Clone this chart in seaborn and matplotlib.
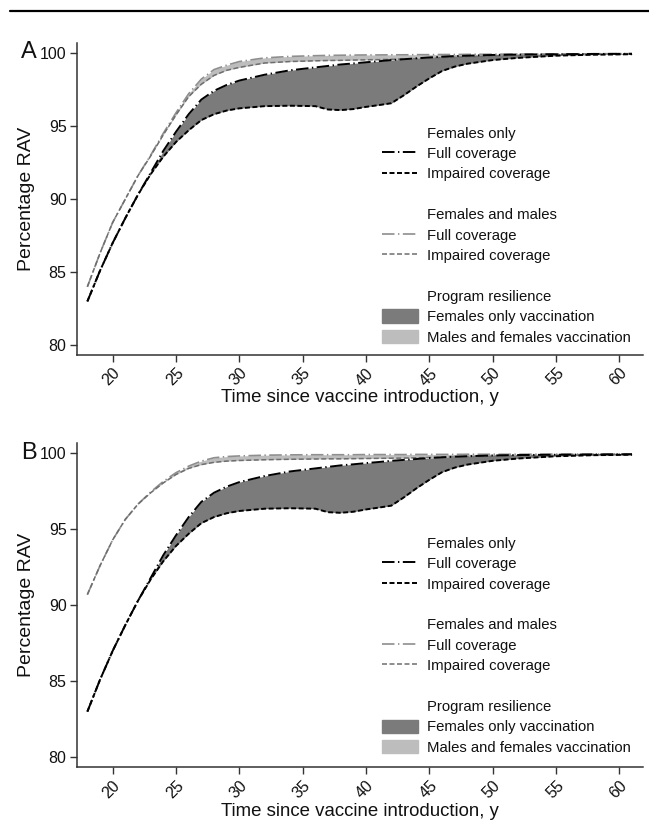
import numpy as np
import pandas as pd
import matplotlib
matplotlib.use("Agg")
import matplotlib.pyplot as plt
import seaborn as sns
from matplotlib.lines import Line2D
from matplotlib.patches import Patch

# --- Data ---
years = [18, 19, 20, 21, 22, 23, 24, 25, 26, 27, 28, 29, 30, 32, 34, 36, 37, 38,
         39, 40, 41, 42, 43, 44, 45, 46, 47, 48, 50, 52, 55, 58, 61]

# females only vaccination (same in both panels)
fem_full = [83.0, 85.1, 87.0, 88.7, 90.3, 91.8, 93.3, 94.6, 95.8, 96.8, 97.4, 97.8,
            98.1, 98.5, 98.8, 99.0, 99.1, 99.2, 99.27, 99.35, 99.42, 99.5, 99.56,
            99.62, 99.68, 99.73, 99.77, 99.8, 99.85, 99.88, 99.9, 99.92, 99.93]
fem_impaired = [83.0, 85.1, 87.0, 88.7, 90.3, 91.7, 92.9, 93.9, 94.7, 95.4, 95.8,
                96.05, 96.2, 96.35, 96.38, 96.35, 96.12, 96.08, 96.15, 96.3, 96.42,
                96.55, 97.1, 97.7, 98.25, 98.75, 99.05, 99.25, 99.5, 99.65, 99.8,
                99.87, 99.9]

# females and males vaccination, panel A
fm_full_a = [84.0, 86.3, 88.4, 90.0, 91.6, 93.0, 94.5, 95.9, 97.2, 98.2, 98.85,
             99.15, 99.4, 99.65, 99.75, 99.8, 99.82, 99.83, 99.84, 99.85, 99.85,
             99.86, 99.86, 99.87, 99.87, 99.88, 99.88, 99.89, 99.9, 99.91, 99.92,
             99.93, 99.94]
fm_impaired_a = [84.0, 86.3, 88.4, 90.0, 91.6, 92.95, 94.4, 95.75, 97.0, 97.85,
                 98.45, 98.8, 99.0, 99.3, 99.4, 99.45, 99.47, 99.48, 99.5, 99.52,
                 99.53, 99.55, 99.57, 99.6, 99.63, 99.66, 99.69, 99.72, 99.78,
                 99.82, 99.86, 99.88, 99.9]

# females and males vaccination, panel B
fm_full_b = [90.7, 92.6, 94.3, 95.65, 96.65, 97.45, 98.15, 98.72, 99.15, 99.48,
             99.7, 99.78, 99.82, 99.87, 99.89, 99.9, 99.9, 99.9, 99.9, 99.91, 99.91,
             99.91, 99.91, 99.92, 99.92, 99.92, 99.92, 99.93, 99.93, 99.93, 99.94,
             99.94, 99.95]
fm_impaired_b = [90.7, 92.6, 94.3, 95.65, 96.65, 97.4, 98.05, 98.6, 99.0, 99.25,
                 99.4, 99.48, 99.52, 99.57, 99.6, 99.62, 99.63, 99.63, 99.64, 99.65,
                 99.66, 99.67, 99.68, 99.7, 99.72, 99.74, 99.76, 99.78, 99.8, 99.83,
                 99.87, 99.9, 99.92]

x_ticks = [20, 25, 30, 35, 40, 45, 50, 55, 60]
y_ticks = [80, 85, 90, 95, 100]

legend_labels = ["Females only", "Full coverage", "Impaired coverage", "",
                 "Females and males", "Full coverage", "Impaired coverage", "",
                 "Program resilience", "Females only vaccination",
                 "Males and females vaccination"]

# --- Style ---
sns.set_style("ticks")
plt.rcParams["font.family"] = ["Liberation Sans", "DejaVu Sans"]
plt.rcParams["lines.scale_dashes"] = False
for key in ["text.color", "axes.labelcolor", "xtick.labelcolor", "ytick.labelcolor"]:
    plt.rcParams[key] = "#111111"

FULL = (0, (9, 2.5, 1, 2.5))
IMPAIRED = (0, (3.6, 1.8))
DARK_FILL = "#7b7b7b"
LIGHT_FILL = "#bdbdbd"
GRAY_LINE = "#8e8e8e"


def draw_panel(ax, fm_full, fm_impaired, letter, legend_top):
    df = pd.DataFrame({"year": years, "fem_full": fem_full, "fem_imp": fem_impaired,
                       "fm_full": fm_full, "fm_imp": fm_impaired})

    ax.fill_between(df["year"], df["fm_imp"], df["fm_full"], color=LIGHT_FILL, lw=0)
    ax.fill_between(df["year"], df["fem_imp"], df["fem_full"], color=DARK_FILL, lw=0)

    sns.lineplot(data=df, x="year", y="fm_full", ax=ax, color=GRAY_LINE, lw=1.2,
                 linestyle=FULL)
    sns.lineplot(data=df, x="year", y="fm_imp", ax=ax, color="#6e6e6e", lw=1.1,
                 linestyle=IMPAIRED)
    sns.lineplot(data=df, x="year", y="fem_full", ax=ax, color="black", lw=1.4,
                 linestyle=FULL)
    sns.lineplot(data=df, x="year", y="fem_imp", ax=ax, color="black", lw=1.4,
                 linestyle=IMPAIRED)

    ax.set_xlim(17.18, 61.87)
    ax.set_ylim(79.34, 100.67)
    ax.set_xticks(x_ticks)
    ax.set_yticks(y_ticks)
    ax.set_xticklabels([str(t) for t in x_ticks], rotation=45, ha="right",
                       rotation_mode="anchor", fontsize=11.5)
    ax.tick_params(axis="y", labelsize=11.5)
    ax.tick_params(length=5, width=1, color="#333333", pad=2.5)
    sns.despine(ax=ax)
    for s in ["left", "bottom"]:
        ax.spines[s].set_linewidth(1.1)
        ax.spines[s].set_color("#333333")

    ax.set_xlabel("Time since vaccine introduction, y", fontsize=13.4)
    ax.set_ylabel("Percentage RAV", fontsize=14)
    ax.xaxis.set_label_coords(0.5, -0.11)
    ax.yaxis.set_label_coords(-0.074, 0.5)

    ax.text(-0.099, 0.97, letter, transform=ax.transAxes, fontsize=17,
            ha="left", va="center")

    blank = Line2D([], [], color="none")
    handles = [blank,
               Line2D([], [], color="black", lw=1.4, linestyle=FULL),
               Line2D([], [], color="black", lw=1.4, linestyle=IMPAIRED),
               blank, blank,
               Line2D([], [], color=GRAY_LINE, lw=1.2, linestyle=FULL),
               Line2D([], [], color="#6e6e6e", lw=1.1, linestyle=IMPAIRED),
               blank, blank,
               Patch(facecolor=DARK_FILL, edgecolor=DARK_FILL),
               Patch(facecolor=LIGHT_FILL, edgecolor=LIGHT_FILL)]
    ax.legend(handles, legend_labels, loc="upper left",
              bbox_to_anchor=(0.539, legend_top), frameon=False, fontsize=10.7,
              handlelength=2.45, handleheight=1.0, handletextpad=0.6,
              labelspacing=0.38, borderpad=0, borderaxespad=0)


fig = plt.figure(figsize=(6.49, 8.23), dpi=100)
ax_a = fig.add_axes([0.1186, 0.5687, 0.8721, 0.3791])
ax_b = fig.add_axes([0.1186, 0.0677, 0.8721, 0.3940])

draw_panel(ax_a, fm_full_a, fm_impaired_a, "A", 0.734)
draw_panel(ax_b, fm_full_b, fm_impaired_b, "B", 0.713)

# rule across the top of the page
fig.add_artist(Line2D([10 / 649, 1.0], [1 - 11 / 823, 1 - 11 / 823],
                      color="black", lw=1.6, transform=fig.transFigure))

fig.savefig("out.png", dpi=100)
